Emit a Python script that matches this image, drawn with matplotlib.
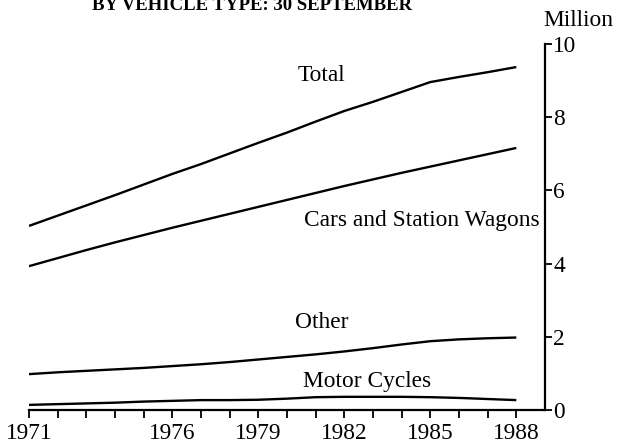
import matplotlib
matplotlib.use("Agg")
import matplotlib.pyplot as plt

years = list(range(1971, 1989))
total = [5.03, 5.31, 5.59, 5.87, 6.16, 6.45, 6.72, 7.01, 7.30, 7.58, 7.88, 8.17, 8.42, 8.69, 8.96, 9.10, 9.23, 9.37]
cars = [3.93, 4.15, 4.37, 4.58, 4.78, 4.98, 5.17, 5.36, 5.55, 5.74, 5.93, 6.12, 6.30, 6.48, 6.65, 6.82, 6.99, 7.16]
other = [0.98, 1.03, 1.07, 1.11, 1.15, 1.20, 1.25, 1.31, 1.38, 1.45, 1.52, 1.60, 1.69, 1.79, 1.88, 1.93, 1.96, 1.98]
motor = [0.14, 0.16, 0.18, 0.20, 0.23, 0.25, 0.27, 0.27, 0.28, 0.31, 0.35, 0.36, 0.36, 0.36, 0.35, 0.33, 0.30, 0.27]
xtick_labels = {1971: "1971", 1976: "1976", 1979: "1979", 1982: "1982", 1985: "1985", 1988: "1988"}
yticks = [0, 2, 4, 6, 8, 10]

plt.rcParams['font.family'] = ['Liberation Serif', 'DejaVu Serif']
FS = 16.8

W, H = 618, 448
fig = plt.figure(figsize=(W / 100, H / 100), dpi=100)
ax = fig.add_axes([29 / W, 1 - 410 / H, (545 - 29) / W, (410 - 44) / H])

lw = 1.7
for series in (total, cars, other, motor):
    ax.plot(years, series, color='black', lw=lw, solid_capstyle='butt')

ax.set_xlim(1971, 1989)
ax.set_ylim(0, 10)

ax.spines['left'].set_visible(False)
ax.spines['top'].set_visible(False)
ax.spines['right'].set_linewidth(1.6)
ax.spines['bottom'].set_linewidth(1.6)

ax.yaxis.tick_right()
ax.set_yticks(yticks)
ax.set_yticklabels([str(v) for v in yticks], fontsize=FS)
ax.tick_params(axis='y', direction='out', length=5, width=1.3, pad=1)

ax.set_xticks(years)
ax.set_xticklabels([xtick_labels.get(y, "") for y in years], fontsize=FS)
ax.tick_params(axis='x', direction='out', length=6, width=1.3, pad=3)

ax.text(1981.2, 9.15, "Total", fontsize=FS, ha='center', va='center')
ax.text(1988.8, 5.19, "Cars and Station Wagons", fontsize=FS, ha='right', va='center')
ax.text(1981.2, 2.40, "Other", fontsize=FS, ha='center', va='center')
ax.text(1982.8, 0.79, "Motor Cycles", fontsize=FS, ha='center', va='center')

fig.text(578 / W, 1 - 20 / H, "Million", fontsize=FS, ha='center', va='center')
fig.text(252 / W, 1 - 10 / H, "BY VEHICLE TYPE: 30 SEPTEMBER", fontsize=13.5,
         fontweight='bold', ha='center', va='baseline')

fig.savefig("out.png", dpi=100)
